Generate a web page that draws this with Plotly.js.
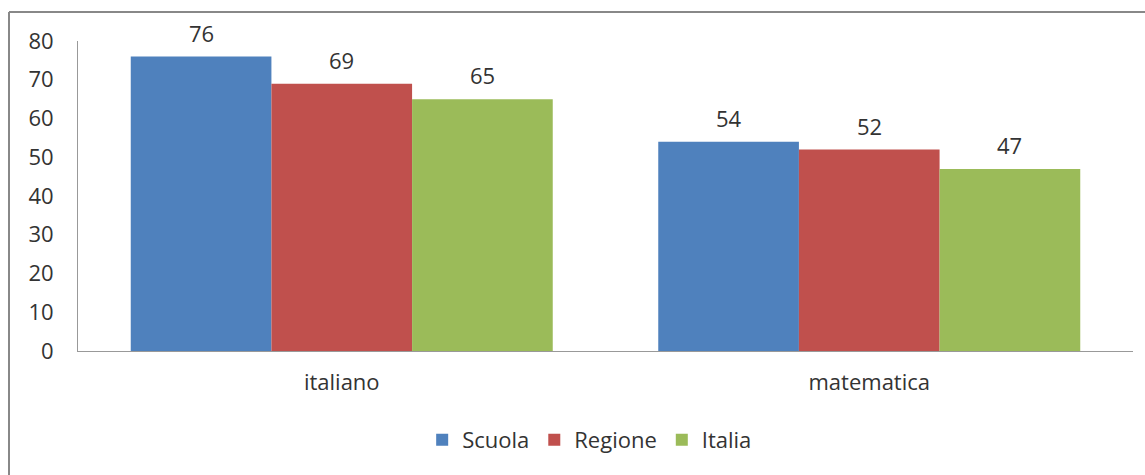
<!DOCTYPE html>
<html>
<head>
<meta charset="utf-8">
<script src="https://cdn.plot.ly/plotly-3.0.1.min.js"></script>
<style>
html,body{margin:0;padding:0;background:#fff;}
#chart{width:1145px;height:475px;}
</style>
</head>
<body>
<div id="chart"></div>
<script>
const categories = ["italiano", "matematica"];
const seriesNames = ["Scuola", "Regione", "Italia"];
const scuola = [76, 54];
const regione = [69, 52];
const italia = [65, 47];
const colors = ["#4F81BD", "#C0504D", "#9BBB59"];

const FONT = "Open Sans, sans-serif";
const bargap = 0.2;
const allValues = [scuola, regione, italia];
const nSeries = allValues.length;
const barW = (1 - bargap) / nSeries;

const traces = allValues.map((vals, i) => ({
  type: "bar",
  name: seriesNames[i],
  x: categories,
  y: vals,
  marker: {color: colors[i]},
  hoverinfo: "none"
}));

const annotations = [];
allValues.forEach((vals, i) => {
  vals.forEach((v, c) => {
    annotations.push({
      xref: "x", yref: "y",
      x: c + (i - (nSeries - 1) / 2) * barW,
      y: v,
      text: String(v),
      showarrow: false,
      xanchor: "center", yanchor: "bottom",
      yshift: 7,
      font: {size: 22, color: "#333", family: FONT}
    });
  });
});

const layout = {
  width: 1145,
  height: 475,
  margin: {l: 78, r: 12, t: 41, b: 124},
  paper_bgcolor: "#fff",
  plot_bgcolor: "#fff",
  barmode: "group",
  bargap: bargap,
  bargroupgap: 0,
  font: {family: FONT, color: "#333", size: 22},
  showlegend: true,
  legend: {
    orientation: "h",
    x: 0.485, xanchor: "center",
    y: -0.287, yanchor: "middle",
    font: {size: 22, color: "#333"},
    itemwidth: 30,
    tracegroupgap: 0
  },
  xaxis: {
    showline: true, linecolor: "#999", linewidth: 1,
    ticks: "", showgrid: false, zeroline: false,
    tickfont: {size: 22, color: "#333"},
    ticklabelstandoff: 12
  },
  yaxis: {
    range: [0, 80], dtick: 10,
    showline: true, linecolor: "#999", linewidth: 1,
    ticks: "", showgrid: false, zeroline: false,
    tickfont: {size: 22, color: "#333"},
    ticklabelstandoff: 19
  },
  annotations: annotations,
  shapes: [
    {type: "line", xref: "paper", yref: "paper", x0: (9-78)/1055, x1: (9-78)/1055, y0: (351-12)/310, y1: (351-480)/310, line: {color: "#888", width: 2}},
    {type: "line", xref: "paper", yref: "paper", x0: (9-78)/1055, x1: (1150-78)/1055, y0: (351-12)/310, y1: (351-12)/310, line: {color: "#888", width: 2}}
  ]
};

Plotly.newPlot("chart", traces, layout, {displayModeBar: false, staticPlot: true});
</script>
</body>
</html>
